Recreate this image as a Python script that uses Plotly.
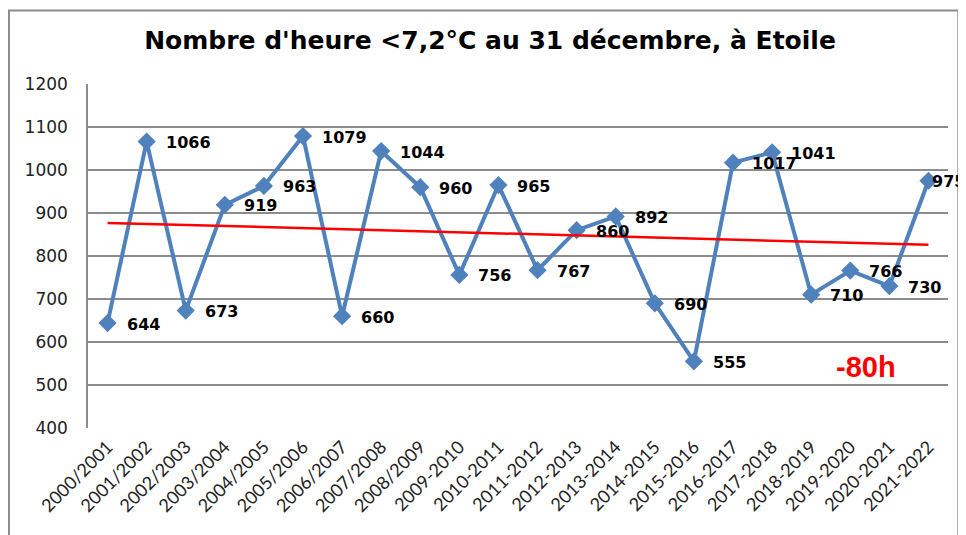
import numpy as np
import plotly.graph_objects as go

# Saisons et heures < 7,2°C relevées au 31 décembre
saisons = ["2000/2001", "2001/2002", "2002/2003", "2003/2004", "2004/2005",
           "2005/2006", "2006/2007", "2007/2008", "2008/2009", "2009-2010",
           "2010-2011", "2011-2012", "2012-2013", "2013-2014", "2014-2015",
           "2015-2016", "2016-2017", "2017-2018", "2018-2019", "2019-2020",
           "2020-2021", "2021-2022"]
heures = [644, 1066, 673, 919, 963, 1079, 660, 1044, 960, 756, 965, 767,
          860, 892, 690, 555, 1017, 1041, 710, 766, 730, 975]
y_ticks = [400, 500, 600, 700, 800, 900, 1000, 1100, 1200]

# Courbe de tendance linéaire (comme dans Excel)
idx = np.arange(len(heures))
pente, origine = np.polyfit(idx, heures, 1)
tendance = pente * idx + origine

fig = go.Figure()
fig.add_trace(go.Scatter(
    x=saisons, y=heures, mode="lines+markers",
    line=dict(color="#4F81BD", width=4),
    marker=dict(symbol="diamond", size=14, color="#4F81BD"),
    showlegend=False,
))
fig.add_trace(go.Scatter(
    x=saisons, y=tendance, mode="lines",
    line=dict(color="#FF0000", width=2.5), showlegend=False,
))

# étiquettes de données, à droite des points
for i, (s, v) in enumerate(zip(saisons, heures)):
    fig.add_annotation(
        x=s, y=v, text=f"<b>{v}</b>", showarrow=False,
        xanchor="left", yanchor="middle",
        xshift=2 if i == len(heures) - 1 else 17, yshift=-1,
        font=dict(family="DejaVu Sans", size=16, color="black"),
    )

fig.add_annotation(x=19.4, y=542, text="<b>-80h</b>", showarrow=False,
                   font=dict(family="Liberation Sans", size=29, color="#FF0000"))

# cadre gris autour du graphique
fig.add_shape(type="rect", xref="paper", yref="paper",
              x0=-0.0919, x1=1.012, y0=-0.4, y1=1.214,
              line=dict(color="#8C8C8C", width=2))

# la page ajoute une marge de 8 px : marges compensées
fig.update_layout(
    width=966, height=535,
    margin=dict(l=80, r=26, t=76, b=115),
    paper_bgcolor="white", plot_bgcolor="white",
    title=dict(text="<b>Nombre d'heure <7,2°C au 31 décembre, à Etoile</b>",
               x=0.499, xanchor="center", y=0.94, yanchor="middle",
               font=dict(family="DejaVu Sans", size=25, color="black")),
)
fig.update_xaxes(range=[-0.5, len(saisons) - 0.5], tickangle=-45,
                 tickfont=dict(family="Lato", size=18, color="#222"),
                 showgrid=False, showline=False, ticks="", automargin=False,
                 ticklabelstandoff=4)
fig.update_yaxes(range=[400, 1200], tickvals=y_ticks,
                 tickfont=dict(family="DejaVu Sans", size=17, color="#222"),
                 showgrid=True, gridcolor="#8C8C8C", gridwidth=1.5,
                 showline=True, linecolor="#8C8C8C", linewidth=1.5,
                 zeroline=False, ticks="", ticklabelstandoff=15,
                 automargin=False)

fig.write_html("out.html")
